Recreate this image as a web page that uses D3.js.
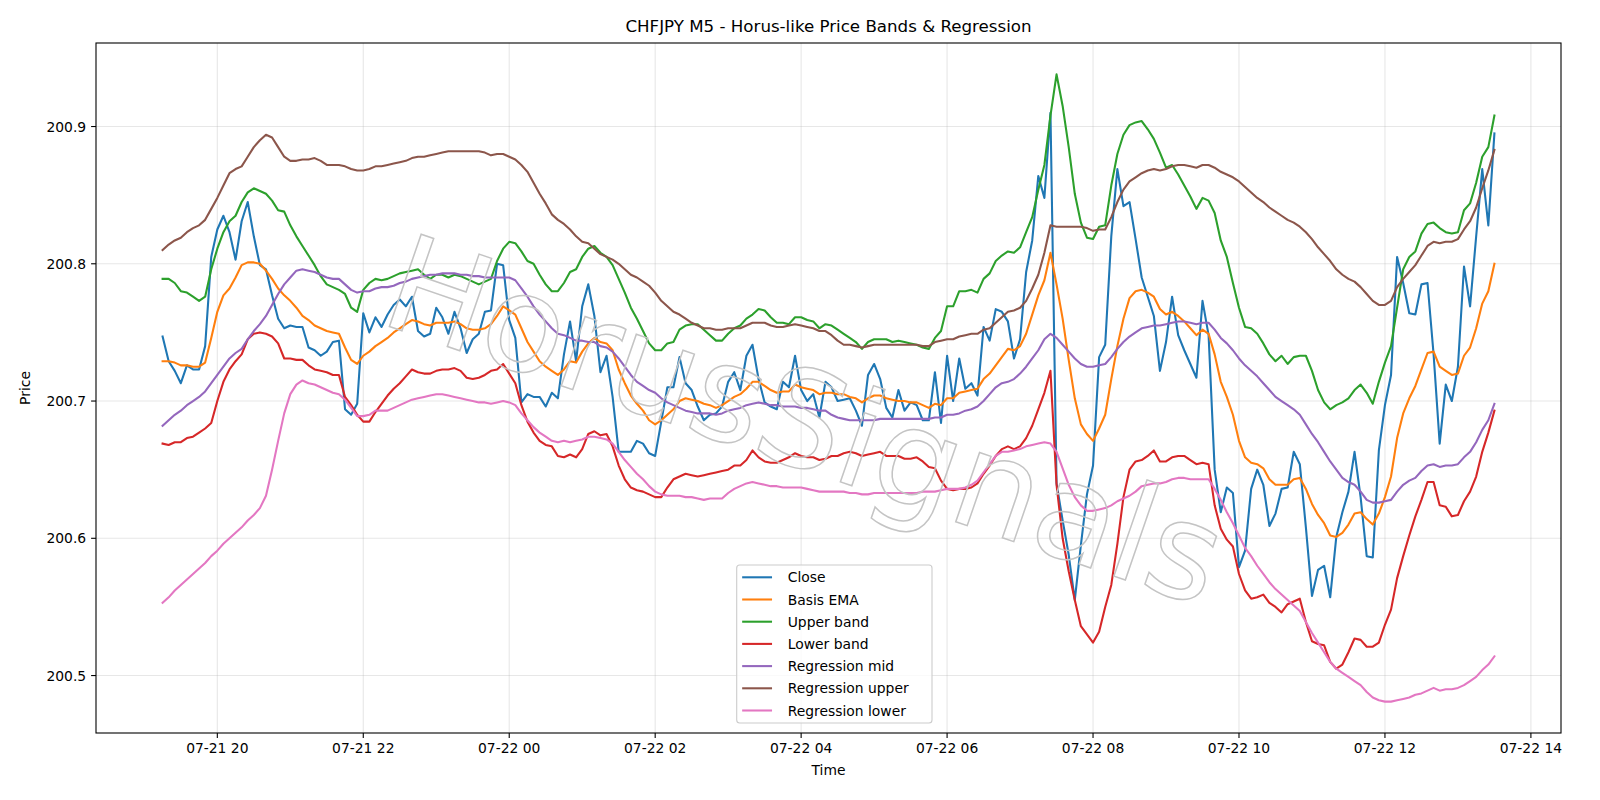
<!DOCTYPE html>
<html><head><meta charset="utf-8">
<script src="https://cdn.jsdelivr.net/npm/d3@7"></script>
<style>body{margin:0;background:#fff} text{font-family:"DejaVu Sans",sans-serif;fill:#000}</style>
</head><body><svg id="c" width="1600" height="800"></svg>
<script>
// ---------- DATA ----------
const startTime = "2025-07-21T19:15:00";
const stepMinutes = 5;
const close = [
200.747,200.729,200.722,200.713,200.726,200.723,200.723,200.740,200.805,200.825,
200.835,200.823,200.803,200.831,200.845,200.820,200.799,200.796,200.777,200.760,
200.753,200.755,200.754,200.754,200.739,200.737,200.733,200.736,200.743,200.744,
200.694,200.690,200.698,200.764,200.750,200.761,200.754,200.763,200.770,200.774,
200.769,200.776,200.751,200.747,200.749,200.768,200.761,200.749,200.765,200.753,
200.735,200.745,200.749,200.765,200.766,200.800,200.799,200.759,200.746,200.699,
200.705,200.703,200.703,200.696,200.706,200.702,200.734,200.758,200.729,200.769,
200.785,200.762,200.721,200.733,200.703,200.663,200.663,200.663,200.671,200.669,
200.662,200.660,200.685,200.710,200.710,200.732,200.713,200.708,200.696,200.686,
200.690,200.691,200.696,200.714,200.721,200.708,200.733,200.741,200.716,200.699,
200.696,200.694,200.714,200.710,200.733,200.708,200.700,200.705,200.688,200.714,
200.710,200.700,200.701,200.702,200.693,200.682,200.719,200.727,200.716,200.695,
200.688,200.708,200.693,200.699,200.697,200.686,200.686,200.721,200.684,200.733,
200.700,200.731,200.709,200.713,200.704,200.754,200.744,200.767,200.765,200.758,
200.731,200.745,200.794,200.817,200.864,200.848,200.910,200.640,200.613,200.588,
200.555,200.595,200.632,200.653,200.732,200.741,200.820,200.869,200.842,200.845,
200.818,200.790,200.776,200.762,200.722,200.743,200.776,200.748,200.737,200.727,
200.717,200.773,200.748,200.650,200.619,200.637,200.633,200.579,200.591,200.636,
200.650,200.639,200.609,200.618,200.636,200.637,200.663,200.654,200.608,200.558,
200.577,200.580,200.557,200.601,200.619,200.634,200.663,200.630,200.587,200.586,
200.664,200.697,200.719,200.805,200.786,200.764,200.763,200.785,200.786,200.734,
200.669,200.712,200.700,200.725,200.798,200.769,200.820,200.869,200.828,200.895];
const basisEma = [
200.729,200.729,200.728,200.726,200.726,200.725,200.725,200.728,200.746,200.765,
200.777,200.782,200.790,200.799,200.801,200.801,200.800,200.795,200.789,200.782,
200.777,200.773,200.768,200.762,200.759,200.755,200.753,200.751,200.750,200.749,
200.739,200.730,200.727,200.733,200.736,200.740,200.743,200.746,200.750,200.753,
200.756,200.759,200.758,200.756,200.755,200.757,200.757,200.757,200.758,200.756,
200.753,200.752,200.752,200.753,200.756,200.762,200.769,200.766,200.763,200.753,
200.743,200.736,200.729,200.725,200.722,200.719,200.723,200.729,200.728,200.736,
200.742,200.746,200.743,200.742,200.737,200.723,200.713,200.704,200.698,200.693,
200.686,200.683,200.686,200.690,200.694,200.700,200.702,200.701,200.700,200.698,
200.697,200.695,200.697,200.700,200.703,200.705,200.709,200.714,200.714,200.711,
200.708,200.706,200.707,200.707,200.712,200.710,200.709,200.708,200.705,200.706,
200.706,200.705,200.705,200.703,200.702,200.699,200.702,200.704,200.704,200.702,
200.701,200.700,200.700,200.699,200.699,200.697,200.695,200.698,200.697,200.702,
200.702,200.706,200.707,200.708,200.709,200.716,200.720,200.726,200.732,200.738,
200.737,200.740,200.749,200.763,200.777,200.788,200.808,200.785,200.760,200.730,
200.702,200.683,200.676,200.671,200.680,200.690,200.716,200.740,200.760,200.775,
200.780,200.781,200.779,200.776,200.767,200.763,200.765,200.762,200.758,200.753,
200.748,200.752,200.749,200.734,200.714,200.703,200.690,200.671,200.659,200.655,
200.654,200.651,200.643,200.639,200.639,200.639,200.643,200.644,200.636,200.625,
200.617,200.611,200.602,200.601,200.604,200.610,200.618,200.619,200.614,200.610,
200.618,200.630,200.645,200.673,200.691,200.702,200.711,200.723,200.735,200.736,
200.725,200.722,200.719,200.720,200.733,200.739,200.753,200.771,200.780,200.800];
const upperBand = [
200.789,200.789,200.786,200.780,200.779,200.776,200.773,200.776,200.796,200.811,
200.823,200.831,200.835,200.845,200.852,200.855,200.853,200.851,200.846,200.839,
200.838,200.828,200.820,200.813,200.806,200.799,200.791,200.785,200.783,200.781,
200.778,200.768,200.765,200.781,200.786,200.789,200.788,200.789,200.791,200.793,
200.794,200.795,200.796,200.792,200.789,200.792,200.792,200.790,200.792,200.791,
200.789,200.787,200.785,200.787,200.789,200.802,200.811,200.816,200.815,200.809,
200.802,200.800,200.792,200.785,200.780,200.780,200.786,200.794,200.796,200.805,
200.811,200.813,200.808,200.805,200.799,200.789,200.779,200.768,200.760,200.751,
200.742,200.737,200.737,200.742,200.743,200.752,200.755,200.756,200.756,200.752,
200.748,200.744,200.744,200.749,200.753,200.755,200.760,200.763,200.767,200.766,
200.761,200.757,200.757,200.756,200.761,200.761,200.759,200.758,200.753,200.756,
200.755,200.752,200.749,200.746,200.743,200.738,200.743,200.745,200.745,200.745,
200.743,200.744,200.743,200.742,200.741,200.739,200.738,200.746,200.751,200.769,
200.769,200.780,200.780,200.781,200.779,200.789,200.793,200.802,200.806,200.809,
200.808,200.812,200.823,200.834,200.854,200.872,200.908,200.938,200.915,200.885,
200.851,200.830,200.819,200.818,200.827,200.828,200.857,200.880,200.894,200.901,
200.903,200.904,200.898,200.891,200.881,200.870,200.872,200.865,200.857,200.849,
200.840,200.848,200.846,200.837,200.817,200.805,200.786,200.768,200.754,200.753,
200.749,200.742,200.734,200.729,200.733,200.727,200.732,200.733,200.733,200.722,
200.708,200.699,200.694,200.697,200.699,200.702,200.708,200.712,200.706,200.698,
200.714,200.728,200.740,200.768,200.796,200.805,200.809,200.822,200.829,200.830,
200.826,200.823,200.822,200.823,200.839,200.844,200.859,200.878,200.885,200.908];
const lowerBand = [
200.669,200.668,200.670,200.670,200.673,200.674,200.677,200.680,200.684,200.700,
200.714,200.723,200.729,200.734,200.745,200.749,200.750,200.749,200.747,200.742,
200.731,200.731,200.730,200.730,200.726,200.723,200.722,200.721,200.719,200.719,
200.703,200.697,200.690,200.685,200.685,200.692,200.698,200.704,200.709,200.713,
200.718,200.723,200.721,200.720,200.720,200.722,200.723,200.723,200.724,200.722,
200.717,200.716,200.717,200.719,200.722,200.723,200.727,200.720,200.713,200.697,
200.685,200.677,200.671,200.668,200.667,200.660,200.659,200.661,200.659,200.665,
200.676,200.678,200.675,200.676,200.667,200.653,200.643,200.637,200.635,200.634,
200.632,200.630,200.630,200.637,200.643,200.645,200.647,200.646,200.645,200.646,
200.647,200.648,200.649,200.650,200.653,200.653,200.657,200.664,200.659,200.656,
200.655,200.655,200.657,200.659,200.662,200.660,200.659,200.659,200.657,200.658,
200.660,200.660,200.662,200.663,200.662,200.660,200.661,200.662,200.663,200.660,
200.660,200.660,200.658,200.658,200.659,200.656,200.652,200.651,200.642,200.636,
200.635,200.636,200.636,200.637,200.640,200.647,200.653,200.660,200.665,200.667,
200.665,200.667,200.673,200.682,200.694,200.706,200.722,200.639,200.600,200.576,
200.555,200.536,200.530,200.524,200.532,200.550,200.566,200.596,200.630,200.650,
200.656,200.657,200.660,200.664,200.656,200.656,200.659,200.660,200.660,200.657,
200.654,200.655,200.654,200.624,200.607,200.599,200.594,200.574,200.562,200.556,
200.557,200.559,200.553,200.550,200.546,200.552,200.554,200.556,200.539,200.525,
200.523,200.522,200.510,200.505,200.508,200.517,200.527,200.526,200.521,200.521,
200.524,200.537,200.548,200.571,200.587,200.602,200.616,200.628,200.641,200.641,
200.624,200.623,200.616,200.617,200.627,200.634,200.645,200.663,200.677,200.693];
const regressionMid = [
200.682,200.686,200.690,200.693,200.697,200.700,200.703,200.707,200.713,200.719,
200.725,200.731,200.735,200.738,200.745,200.751,200.756,200.762,200.770,200.778,
200.785,200.790,200.795,200.796,200.795,200.794,200.792,200.790,200.789,200.789,
200.785,200.781,200.779,200.780,200.780,200.782,200.783,200.783,200.784,200.786,
200.787,200.789,200.790,200.791,200.792,200.792,200.793,200.793,200.793,200.792,
200.792,200.791,200.791,200.790,200.790,200.790,200.790,200.790,200.788,200.782,
200.776,200.769,200.763,200.758,200.753,200.749,200.748,200.746,200.744,200.744,
200.743,200.743,200.740,200.739,200.736,200.731,200.725,200.719,200.714,200.711,
200.708,200.706,200.702,200.699,200.697,200.695,200.693,200.692,200.691,200.691,
200.691,200.690,200.691,200.693,200.694,200.695,200.697,200.698,200.699,200.698,
200.697,200.697,200.696,200.696,200.696,200.695,200.695,200.694,200.693,200.693,
200.690,200.688,200.687,200.686,200.686,200.686,200.686,200.686,200.687,200.687,
200.687,200.687,200.687,200.687,200.687,200.687,200.687,200.688,200.688,200.690,
200.690,200.691,200.693,200.694,200.696,200.700,200.705,200.710,200.713,200.714,
200.716,200.720,200.725,200.731,200.737,200.745,200.749,200.746,200.741,200.736,
200.731,200.727,200.725,200.725,200.726,200.727,200.732,200.738,200.743,200.747,
200.750,200.753,200.754,200.755,200.755,200.756,200.757,200.758,200.758,200.757,
200.756,200.757,200.757,200.752,200.746,200.742,200.737,200.731,200.726,200.722,
200.718,200.713,200.708,200.703,200.700,200.697,200.694,200.690,200.683,200.676,
200.670,200.663,200.656,200.650,200.644,200.641,200.639,200.634,200.628,200.626,
200.626,200.627,200.628,200.634,200.639,200.642,200.644,200.649,200.653,200.654,
200.652,200.653,200.653,200.654,200.659,200.663,200.670,200.679,200.686,200.698];
const regressionUpper = [
200.810,200.814,200.817,200.819,200.823,200.826,200.828,200.832,200.840,200.848,
200.857,200.866,200.869,200.871,200.878,200.885,200.890,200.894,200.892,200.885,
200.878,200.875,200.875,200.876,200.876,200.877,200.875,200.872,200.872,200.872,
200.871,200.869,200.868,200.868,200.869,200.871,200.871,200.872,200.873,200.874,
200.875,200.877,200.878,200.878,200.879,200.880,200.881,200.882,200.882,200.882,
200.882,200.882,200.882,200.881,200.879,200.880,200.880,200.878,200.876,200.872,
200.867,200.859,200.851,200.844,200.836,200.832,200.829,200.825,200.820,200.816,
200.815,200.811,200.807,200.805,200.803,200.800,200.796,200.792,200.790,200.787,
200.784,200.779,200.773,200.769,200.765,200.763,200.760,200.757,200.755,200.753,
200.753,200.752,200.752,200.753,200.753,200.753,200.755,200.757,200.757,200.757,
200.755,200.754,200.754,200.755,200.756,200.755,200.754,200.753,200.751,200.751,
200.748,200.744,200.741,200.741,200.740,200.739,200.740,200.741,200.741,200.741,
200.741,200.741,200.741,200.741,200.741,200.740,200.740,200.743,200.744,200.745,
200.745,200.747,200.748,200.749,200.749,200.752,200.753,200.757,200.761,200.765,
200.766,200.768,200.773,200.782,200.792,200.808,200.828,200.827,200.827,200.827,
200.827,200.827,200.826,200.824,200.825,200.825,200.834,200.845,200.854,200.860,
200.863,200.866,200.868,200.869,200.868,200.869,200.871,200.872,200.872,200.871,
200.870,200.872,200.872,200.870,200.867,200.865,200.863,200.860,200.856,200.852,
200.848,200.845,200.841,200.838,200.835,200.832,200.830,200.827,200.823,200.818,
200.812,200.807,200.802,200.796,200.792,200.789,200.787,200.783,200.778,200.773,
200.770,200.770,200.773,200.783,200.789,200.794,200.799,200.806,200.813,200.816,
200.815,200.816,200.816,200.818,200.825,200.831,200.841,200.855,200.868,200.883];
const regressionLower = [
200.553,200.557,200.562,200.566,200.570,200.574,200.578,200.582,200.587,200.591,
200.596,200.600,200.604,200.608,200.613,200.617,200.622,200.631,200.650,200.671,
200.691,200.705,200.712,200.715,200.713,200.712,200.710,200.708,200.706,200.705,
200.701,200.695,200.689,200.689,200.690,200.693,200.693,200.693,200.695,200.697,
200.699,200.701,200.702,200.703,200.704,200.705,200.705,200.704,200.703,200.702,
200.701,200.700,200.699,200.699,200.698,200.699,200.700,200.699,200.697,200.691,
200.686,200.681,200.677,200.674,200.671,200.670,200.671,200.670,200.671,200.672,
200.674,200.674,200.673,200.672,200.669,200.663,200.657,200.652,200.647,200.643,
200.638,200.634,200.632,200.631,200.631,200.631,200.630,200.630,200.629,200.628,
200.629,200.629,200.629,200.633,200.636,200.638,200.640,200.641,200.640,200.639,
200.638,200.638,200.637,200.637,200.637,200.637,200.636,200.635,200.634,200.634,
200.634,200.634,200.634,200.633,200.633,200.632,200.632,200.633,200.633,200.633,
200.633,200.633,200.633,200.633,200.633,200.634,200.634,200.634,200.635,200.636,
200.636,200.636,200.637,200.639,200.642,200.648,200.654,200.660,200.663,200.663,
200.664,200.665,200.667,200.668,200.669,200.670,200.669,200.663,200.651,200.639,
200.630,200.624,200.620,200.620,200.621,200.622,200.624,200.627,200.629,200.631,
200.634,200.638,200.639,200.640,200.640,200.641,200.643,200.644,200.644,200.643,
200.643,200.643,200.643,200.636,200.628,200.619,200.611,200.602,200.593,200.587,
200.580,200.574,200.568,200.563,200.559,200.555,200.551,200.547,200.539,200.531,
200.524,200.517,200.510,200.505,200.502,200.499,200.496,200.493,200.488,200.484,
200.482,200.481,200.481,200.482,200.483,200.484,200.486,200.487,200.489,200.491,
200.489,200.490,200.490,200.491,200.493,200.496,200.499,200.504,200.508,200.514];
const seriesNames = ["Close","Basis EMA","Upper band","Lower band","Regression mid","Regression upper","Regression lower"];
const yTickValues = [200.5, 200.6, 200.7, 200.8, 200.9];
const titleText = "CHFJPY M5 - Horus-like Price Bands & Regression";
const xLabelText = "Time";
const yLabelText = "Price";
const watermarkText = "HorusSignals";

// ---------- STYLE / LAYOUT ----------
const colors = ["#1f77b4","#ff7f0e","#2ca02c","#d62728","#9467bd","#8c564b","#e377c2"];
const seriesValues = [close, basisEma, upperBand, lowerBand, regressionMid, regressionUpper, regressionLower];
const M = {l:96, r:1561, t:43, b:733};
const svg = d3.select("#c");

const t0 = new Date(startTime);
const times = close.map((_, i) => new Date(t0.getTime() + i * stepMinutes * 60000));

const allVals = seriesValues.flat();
const [vmin, vmax] = d3.extent(allVals);
const vpad = (vmax - vmin) * 0.05;
const y = d3.scaleLinear().domain([vmin - vpad, vmax + vpad]).range([M.b, M.t]);
const [ta, tb] = d3.extent(times);
const tpad = (tb - ta) * 0.05;
const x = d3.scaleTime().domain([new Date(+ta - tpad), new Date(+tb + tpad)]).range([M.l, M.r]);

const xTicks = d3.timeHour.every(2).range(x.domain()[0], x.domain()[1]);
const fmt = d3.timeFormat("%m-%d %H");

// grid
const grid = svg.append("g");
grid.selectAll("line.gx").data(xTicks).join("line")
  .attr("x1", d => x(d)).attr("x2", d => x(d)).attr("y1", M.t).attr("y2", M.b)
  .attr("stroke", "#b0b0b0").attr("stroke-opacity", 0.3).attr("stroke-width", 1.1);
grid.selectAll("line.gy").data(yTickValues).join("line")
  .attr("y1", d => y(d)).attr("y2", d => y(d)).attr("x1", M.l).attr("x2", M.r)
  .attr("stroke", "#b0b0b0").attr("stroke-opacity", 0.3).attr("stroke-width", 1.1);

// clip
svg.append("clipPath").attr("id","clip").append("rect")
  .attr("x", M.l).attr("y", M.t).attr("width", M.r - M.l).attr("height", M.b - M.t);

const line = d3.line().x((d, i) => x(times[i])).y(d => y(d));
const lg = svg.append("g").attr("clip-path","url(#clip)");
seriesValues.forEach((vals, k) => {
  lg.append("path").attr("d", line(vals)).attr("fill","none")
    .attr("stroke", colors[k]).attr("stroke-width", 2.08)
    .attr("stroke-linejoin","round").attr("stroke-linecap","square");
});

// frame
svg.append("rect").attr("x", M.l).attr("y", M.t).attr("width", M.r - M.l).attr("height", M.b - M.t)
  .attr("fill","none").attr("stroke","#000").attr("stroke-width",1.1);

// axes ticks
const ax = svg.append("g");
ax.selectAll("line.tx").data(xTicks).join("line")
  .attr("x1", d => x(d)).attr("x2", d => x(d)).attr("y1", M.b).attr("y2", M.b + 4.9)
  .attr("stroke","#000").attr("stroke-width",1.1);
ax.selectAll("text.tx").data(xTicks).join("text")
  .attr("x", d => x(d)).attr("y", 753).attr("text-anchor","middle")
  .attr("font-size", 13.89).text(d => fmt(d));
ax.selectAll("line.ty").data(yTickValues).join("line")
  .attr("y1", d => y(d)).attr("y2", d => y(d)).attr("x1", M.l - 4.9).attr("x2", M.l)
  .attr("stroke","#000").attr("stroke-width",1.1);
ax.selectAll("text.ty").data(yTickValues).join("text")
  .attr("x", M.l - 9.8).attr("y", d => y(d) + 5).attr("text-anchor","end")
  .attr("font-size", 13.89).text(d => d3.format(".1f")(d));

// labels
svg.append("text").attr("x", (M.l + M.r)/2).attr("y", 775).attr("text-anchor","middle")
  .attr("font-size", 13.89).text(xLabelText);
svg.append("text").attr("transform", `translate(30,${(M.t + M.b)/2}) rotate(-90)`)
  .attr("text-anchor","middle").attr("font-size", 13.89).text(yLabelText);
svg.append("text").attr("x", (M.l + M.r)/2).attr("y", 32).attr("text-anchor","middle")
  .attr("font-size", 16.67).text(titleText);

// watermark
svg.append("text").attr("transform","translate(802,430) rotate(19)")
  .attr("text-anchor","middle").attr("dominant-baseline","middle")
  .attr("font-size", 134).style("fill","none").attr("stroke","#c4c4c4").attr("stroke-width",1.5)
  .text(watermarkText);

// legend
const L = {x: 736.7, y: 565, w: 195.3, h: 158, row: 22.2};
const leg = svg.append("g");
leg.append("rect").attr("x", L.x).attr("y", L.y).attr("width", L.w).attr("height", L.h)
  .attr("rx", 3).attr("fill","#fff").attr("fill-opacity",0.8).attr("stroke","#cccccc").attr("stroke-width",1.1);
seriesNames.forEach((name, k) => {
  const cy = L.y + 12.3 + k * L.row;
  leg.append("line").attr("x1", L.x + 6.5).attr("x2", L.x + 34.3).attr("y1", cy).attr("y2", cy)
    .attr("stroke", colors[k]).attr("stroke-width", 2.08).attr("stroke-linecap","square");
  leg.append("text").attr("x", L.x + 51).attr("y", cy + 5).attr("font-size", 13.89).text(name);
});
</script></body></html>
